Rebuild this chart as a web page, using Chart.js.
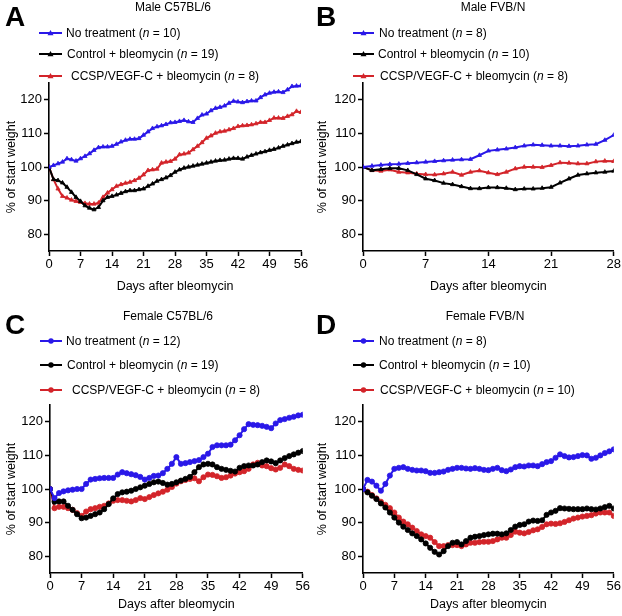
<!DOCTYPE html>
<html><head><meta charset="utf-8">
<script src="https://cdn.jsdelivr.net/npm/chart.js@4.4.1/dist/chart.umd.min.js"></script>
<style>
body{margin:0;background:#fff;font-family:"Liberation Sans",Arial,Helvetica,sans-serif;color:#000;}
#wrap{position:relative;width:622px;height:616px;overflow:hidden;}
canvas.pc{position:absolute;}
.letter{position:absolute;font-weight:bold;font-size:28px;line-height:28px;}
.title{position:absolute;font-size:12px;line-height:14px;white-space:nowrap;transform:translateX(-50%);}
.leg{position:absolute;font-size:12px;line-height:14px;white-space:nowrap;}
svg.ls{position:absolute;}
</style>
</head><body>
<div id="wrap"></div>
<script>
// ---------- DATA ----------
const days56 = [0,1,2,3,4,5,6,7,8,9,10,11,12,13,14,15,16,17,18,19,20,21,22,23,24,25,26,27,28,29,30,31,32,33,34,35,36,37,38,39,40,41,42,43,44,45,46,47,48,49,50,51,52,53,54,55,56];
const days28 = [0,1,2,3,4,5,6,7,8,9,10,11,12,13,14,15,16,17,18,19,20,21,22,23,24,25,26,27,28];
const yTickValues = [80,90,100,110,120];
const xTicks56 = [0,7,14,21,28,35,42,49,56];
const xTicks28 = [0,7,14,21,28];

const seriesNames = ['No treatment','Control + bleomycin','CCSP/VEGF-C + bleomycin'];

// A: Male C57BL/6
const A_noTreat = [100,100.5,101,101.5,102.5,102.2,101.8,102.5,103.2,104,105,105.8,106,106,106.2,106.8,107.5,108,108.3,108.3,108.5,109.5,110.5,111.5,112,112.3,112.7,113.2,113.3,113.6,113.9,113.5,113.3,114.5,115.5,115.8,116.8,117.5,117.8,118.2,119,119.6,119.4,119.2,119.5,119.7,119.7,120.7,121.5,122,122.3,122.4,122.2,123,124,124.1,124.2];
const A_control = [100,96.3,96,95.3,94,92.5,91,89.8,88.5,87.8,87.3,88,90,91,91.3,91.7,92.2,92.7,93,93,93.3,93.5,94.3,95,95.8,96.3,96.8,97.5,98.5,99.2,99.7,100,100.3,100.6,100.9,101.2,101.5,101.8,102,102.1,102.4,102.6,102.6,102.4,103,103.5,103.9,104.3,104.6,105,105.3,105.7,106.2,106.6,107,107.4,107.6];
const A_ccsp = [100,96.3,93.5,91.3,90.8,90.2,89.8,89.5,89.2,89,89,89.3,91,92.3,93.3,94.3,94.8,95.2,95.5,96,96.7,97.7,99,99.2,99.4,101.2,101.5,101.7,102.4,103.7,103.9,104.2,105.2,106.2,107.3,108.6,109.3,110.1,110.5,110.7,111.1,111.5,112.1,112.3,112.4,112.6,112.9,113.3,113.3,113.9,114.6,114.6,114.5,115.1,115.6,116.6,116.3];
const A_n = [10,19,8];

// B: Male FVB/N
const B_noTreat = [100,100.3,100.6,100.8,100.9,101.1,101.3,101.5,101.7,101.9,102.1,102.2,102.3,103.5,104.8,105.1,105.4,105.8,106.3,106.6,106.5,106.3,106.3,106.2,106.3,106.6,106.8,108,109.5];
const B_control = [100,99,99.3,99.6,99.6,99,97.8,96.5,96,95.2,94.8,94.2,93.6,93.6,93.9,93.9,93.7,93.3,93.5,93.5,93.7,94,95.3,96.5,97.6,98,98.3,98.5,98.8];
const B_ccsp = [100,99,98.8,99.2,98.5,98.3,98,97.8,97.7,98,98.5,97.6,98.5,98.9,98.3,97.8,98.5,99.5,100,100,99.9,100.5,101.3,101.2,101,101,101.6,101.8,101.7];
const B_n = [8,10,8];

// C: Female C57BL/6
const C_noTreat = [100,97.3,98.8,99.3,99.6,99.8,100,100,101.5,102.8,103,103.2,103.3,103.3,103.3,104.3,105,104.7,104.4,104.1,103.6,102.8,103.3,103.9,104,104.7,106,107.5,109.5,107.5,107.7,108,108.3,108.6,109.5,110.5,112.5,113,113,113,113.2,114.5,116,117.8,119.3,119.1,119,118.8,118.5,118.1,119.5,120.5,120.8,121.2,121.5,121.9,122.1];
const C_control = [100,96.2,96.3,96.3,95,93.8,92.5,91.3,91.5,92,92.5,93,94,95.5,97.2,98.5,99,99.2,99.5,100,100.5,101,101.5,102,102.2,101.8,101.3,101.5,102,102.5,103,103.6,105,106.5,107.3,107.5,107.3,106.5,106,105.7,105.4,105.2,106.3,106.8,107,107,107.3,108,108.5,108.2,107.7,108.5,109.2,109.8,110.3,110.8,111.3];
const C_ccsp = [100,94.3,94.7,94.7,94.3,93.8,92.8,92,93.3,94,94.3,94.7,95,95.7,96.5,96.7,96.7,96.5,96.3,96.7,97.3,97,97.6,98.2,98.7,99.2,99.8,100.6,101.6,102.3,102.7,103,103.2,102.3,103.5,104.3,104.2,103.8,103.3,103.5,104,104.6,105,105.3,106,107.3,107.8,107,106.8,106.2,105.8,106.3,107.3,106.8,106,105.7,105.5];
const C_n = [12,19,8];

// D: Female FVB/N
const D_noTreat = [100,102.7,102.2,101,99.5,101.5,104,106,106.3,106.5,106,105.7,105.5,105.5,105.3,104.8,104.8,105,105.2,105.7,106,106.3,106.3,106.1,106,106.2,106,105.7,105.6,106,106.3,105.6,105.3,105.8,106.5,106.8,106.7,107,107,106.8,107.4,108,108.3,109.3,110.3,109.8,109.4,109.5,109.8,110.1,110,109,109.3,110,110.7,111.2,111.8];
const D_control = [100,99,98,97,95.7,94.5,93,91.5,90,88.8,87.8,86.8,86,85,83.8,82.5,81.3,80.5,81.5,83,84,84.2,83.5,84.5,85.5,85.8,86,86.3,86.5,86.7,86.7,86.5,86.8,87.8,88.8,89.3,89.5,90.3,90.6,90.5,90.7,92.3,93,93.5,94.3,94.2,94.1,94,94,94,94.2,94,93.9,94.2,94.6,95,94.2];
const D_ccsp = [100,99.2,98.2,97.2,96.2,95.3,94.3,93,91.5,90.3,89.5,88.5,87.5,86.5,86,85.5,84.2,83,83,83.3,83.3,83.3,83,83.5,84,84,84.2,84.3,84.3,84.5,85,85.5,85.5,86.3,87.3,87,86.8,87.2,87.7,88,88.7,89.5,89.7,89.6,89.8,90.2,90.7,91.2,91.5,91.8,92,92.2,92.7,93,93,93,92];
const D_n = [8,10,10];

// ---------- STYLE ----------
const COLORS = ['#2a18e8','#000000','#d3242a'];
const FONT = '"Liberation Sans", Arial, Helvetica, sans-serif';

const panels = [
  {letter:'A', title:'Male C57BL/6', ox:0, oy:0, days:days56, xt:xTicks56, max:56, series:[A_noTreat,A_control,A_ccsp], n:A_n, marker:'triangle',
   area:{l:49,r:301,t:83,b:251}, titleX:173, titleY:0, legTops:[26,47,69], legLine:[39,62], legText:[66,67,71], xTitlePad:14},
  {letter:'B', title:'Male FVB/N', ox:311, oy:0, days:days28, xt:xTicks28, max:28, series:[B_noTreat,B_control,B_ccsp], n:B_n, marker:'triangle',
   area:{l:52,r:304,t:83,b:251}, titleX:182, titleY:0, legTops:[26,47,69], legLine:[42,63], legText:[68,67,69], xTitlePad:14},
  {letter:'C', title:'Female C57BL/6', ox:0, oy:308, days:days56, xt:xTicks56, max:56, series:[C_noTreat,C_control,C_ccsp], n:C_n, marker:'circle',
   area:{l:50,r:303,t:97,b:265}, titleX:168, titleY:1, legTops:[26,50,75], legLine:[40,62], legText:[66,67,72], xTitlePad:4},
  {letter:'D', title:'Female FVB/N', ox:311, oy:308, days:days56, xt:xTicks56, max:56, series:[D_noTreat,D_control,D_ccsp], n:D_n, marker:'circle',
   area:{l:52,r:303,t:97,b:265}, titleX:174, titleY:1, legTops:[26,50,75], legLine:[42,63], legText:[68,68,69], xTitlePad:4}
];

const wrap = document.getElementById('wrap');

function add(el){ wrap.appendChild(el); return el; }

panels.forEach(p => {
  const cv = document.createElement('canvas');
  cv.className = 'pc'; cv.width = 311; cv.height = 308;
  cv.style.left = p.ox+'px'; cv.style.top = p.oy+'px';
  cv.style.width='311px'; cv.style.height='308px';
  add(cv);

  const lt = document.createElement('div'); lt.className='letter';
  lt.textContent = p.letter; lt.style.left=(p.ox+5)+'px'; lt.style.top=(p.oy+3)+'px'; add(lt);

  const tt = document.createElement('div'); tt.className='title';
  tt.textContent = p.title; tt.style.left=(p.ox+p.titleX)+'px'; tt.style.top=(p.oy+p.titleY)+'px'; add(tt);

  seriesNames.forEach((nm,i) => {
    const top = p.oy + p.legTops[i];
    const x0 = p.ox + p.legLine[0], x1 = p.ox + p.legLine[1];
    const svg = document.createElementNS('http://www.w3.org/2000/svg','svg');
    svg.setAttribute('class','ls');
    svg.setAttribute('width', x1-x0+6); svg.setAttribute('height', 14);
    svg.style.left=(x0-3)+'px'; svg.style.top=top+'px';
    const w = x1-x0, cx = 3 + w/2, cy = 7;
    let inner = `<line x1="3" y1="${cy}" x2="${3+w}" y2="${cy}" stroke="${COLORS[i]}" stroke-width="2"/>`;
    if (p.marker==='triangle') {
      inner += `<polygon points="${cx-3},${cy+2.2} ${cx+3},${cy+2.2} ${cx},${cy-3}" fill="${COLORS[i]}"/>`;
    } else {
      inner += `<circle cx="${cx}" cy="${cy}" r="2.7" fill="${COLORS[i]}"/>`;
    }
    svg.innerHTML = inner;
    add(svg);
    const tx = document.createElement('div'); tx.className='leg';
    tx.innerHTML = nm + ' (<i>n</i> = ' + p.n[i] + ')';
    tx.style.left=(p.ox+p.legText[i])+'px'; tx.style.top=top+'px'; add(tx);
  });

  const datasets = p.series.map((vals,i) => ({
    label: seriesNames[i],
    data: p.days.map((d,k) => ({x:d, y:vals[k]})),
    borderColor: COLORS[i], backgroundColor: COLORS[i],
    borderWidth: 2, pointStyle: p.marker,
    pointRadius: p.marker==='triangle' ? 2.4 : 2.6,
    pointBorderWidth: 0.8, pointBorderColor: COLORS[i], pointBackgroundColor: COLORS[i],
    tension: 0, fill:false
  }));

  const a = p.area;
  const tickFont = {family:FONT, size:13};
  const titleFont = {family:FONT, size:12.5};
  new Chart(cv, {
    type:'line',
    data:{datasets},
    options:{
      responsive:false, animation:false, devicePixelRatio:1,
      layout:{padding:{top:a.t, right:311-a.r, left:0, bottom:0}},
      plugins:{legend:{display:false}, tooltip:{enabled:false}, title:{display:false}},
      scales:{
        x:{type:'linear', min:0, max:p.max,
          afterBuildTicks: s => { s.ticks = p.xt.map(v=>({value:v})); },
          afterFit: s => { s.height = 308 - a.b; },
          ticks:{font:tickFont, color:'#000', padding:1, maxRotation:0, autoSkip:false},
          grid:{display:true, drawOnChartArea:false, drawTicks:true, tickLength:5, tickColor:'#000', tickWidth:1.5},
          border:{display:true, color:'#000', width:1.6},
          title:{display:true, text:'Days after bleomycin', color:'#000', font:titleFont, padding:{top:2, bottom:p.xTitlePad}}
        },
        y:{type:'linear', min:75, max:125,
          afterBuildTicks: s => { s.ticks = yTickValues.map(v=>({value:v})); },
          afterFit: s => { s.width = a.l; },
          ticks:{font:tickFont, color:'#000', padding:2},
          grid:{display:true, drawOnChartArea:false, drawTicks:true, tickLength:5, tickColor:'#000', tickWidth:1.5},
          border:{display:true, color:'#000', width:1.6},
          title:{display:true, text:'% of start weight', color:'#000', font:titleFont, padding:{top:4, bottom:2}}
        }
      }
    }
  });
});
</script>
</body></html>
